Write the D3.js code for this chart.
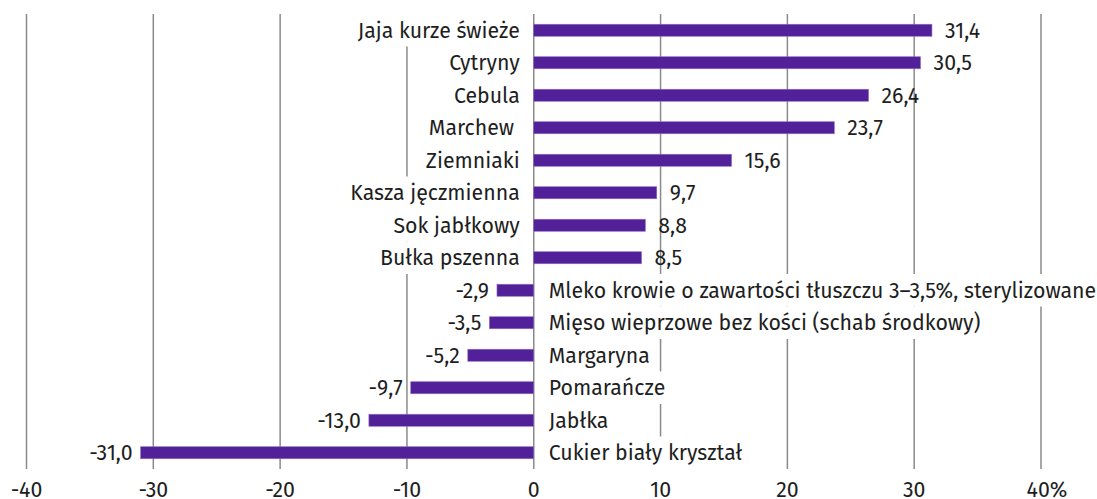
<!DOCTYPE html>
<html>
<head>
<meta charset="utf-8">
<script src="https://cdn.jsdelivr.net/npm/d3@7"></script>
<style>
  body { margin: 0; background: #fff; }
  svg { display: block; font-family: "Fira Sans", "Open Sans", sans-serif; }
  svg text { white-space: pre; }
</style>
</head>
<body>
<svg id="chart" width="1097" height="499"></svg>
<script>
// categories, top to bottom
var categories = [
    "Jaja kurze świeże", "Cytryny", "Cebula", "Marchew ", "Ziemniaki",
    "Kasza jęczmienna", "Sok jabłkowy", "Bułka pszenna",
    "Mleko krowie o zawartości tłuszczu 3–3,5%, sterylizowane",
    "Mięso wieprzowe bez kości (schab środkowy)",
    "Margaryna", "Pomarańcze", "Jabłka", "Cukier biały kryształ"
];
var values = [31.4, 30.5, 26.4, 23.7, 15.6, 9.7, 8.8, 8.5, -2.9, -3.5, -5.2, -9.7, -13.0, -31.0];
var ticks = [-40, -30, -20, -10, 0, 10, 20, 30, 40];

var barColor = "#52219a";
var gridColor = "#8a8a8a";
var textColor = "#1e1e1e";
var fontSize = 21.3;

var svg = d3.select("#chart");

var x = d3.scaleLinear().domain([-40, 40]).range([26.5, 1041]);
var y = d3.scaleBand()
    .domain(categories)
    .range([14, 469])
    .paddingInner(0.63)
    .paddingOuter(0.315);
var step = y.step();

// gridlines
svg.append("g").selectAll("line")
    .data(ticks)
    .enter().append("line")
    .attr("x1", function (d) { return x(d); })
    .attr("x2", function (d) { return x(d); })
    .attr("y1", 14)
    .attr("y2", 469)
    .attr("stroke", gridColor)
    .attr("stroke-width", 1.5);

// bars
svg.append("g").selectAll("rect")
    .data(values)
    .enter().append("rect")
    .attr("x", function (d) { return x(Math.min(0, d)); })
    .attr("y", function (d, i) { return y(categories[i]); })
    .attr("width", function (d) { return Math.abs(x(d) - x(0)); })
    .attr("height", y.bandwidth())
    .attr("fill", barColor)
    .attr("stroke", "#8d6cc4")
    .attr("stroke-width", 0.6);

function fmt(v) {
    return d3.format(".1f")(v).replace(".", ",").replace("−", "-");
}

// category labels with white boxes hiding the gridlines
var labels = svg.append("g").selectAll("g")
    .data(categories)
    .enter().append("g")
    .attr("transform", function (d, i) {
        var cy = y(d) + y.bandwidth() / 2;
        return values[i] >= 0
            ? "translate(" + (x(0) - 14) + "," + cy + ")"
            : "translate(" + (x(0) + 15) + "," + cy + ")";
    });

labels.append("rect")
    .attr("fill", "#fff");

labels.append("text")
    .attr("text-anchor", function (d, i) { return values[i] >= 0 ? "end" : "start"; })
    .attr("dy", "0.35em")
    .attr("font-size", fontSize)
    .attr("fill", textColor)
    .text(function (d) { return d; });

labels.each(function () {
    var g = d3.select(this);
    var bb = g.select("text").node().getBBox();
    g.select("rect")
        .attr("x", bb.x - 4)
        .attr("y", -step / 2)
        .attr("width", bb.width + 8)
        .attr("height", step);
});

// value labels
svg.append("g").selectAll("text")
    .data(values)
    .enter().append("text")
    .attr("x", function (d) { return d >= 0 ? x(d) + 13 : x(d) - 8; })
    .attr("y", function (d, i) { return y(categories[i]) + y.bandwidth() / 2; })
    .attr("dy", "0.35em")
    .attr("text-anchor", function (d) { return d >= 0 ? "start" : "end"; })
    .attr("font-size", fontSize)
    .attr("fill", textColor)
    .text(function (d) { return fmt(d); });

// axis tick labels
svg.append("g").selectAll("text")
    .data(ticks)
    .enter().append("text")
    .attr("x", function (d) { return d == 40 ? x(d) + 6 : x(d); })
    .attr("y", 497)
    .attr("text-anchor", "middle")
    .attr("font-size", fontSize)
    .attr("fill", textColor)
    .text(function (d) { return d == 40 ? d + "%" : d; });
</script>
</body>
</html>
